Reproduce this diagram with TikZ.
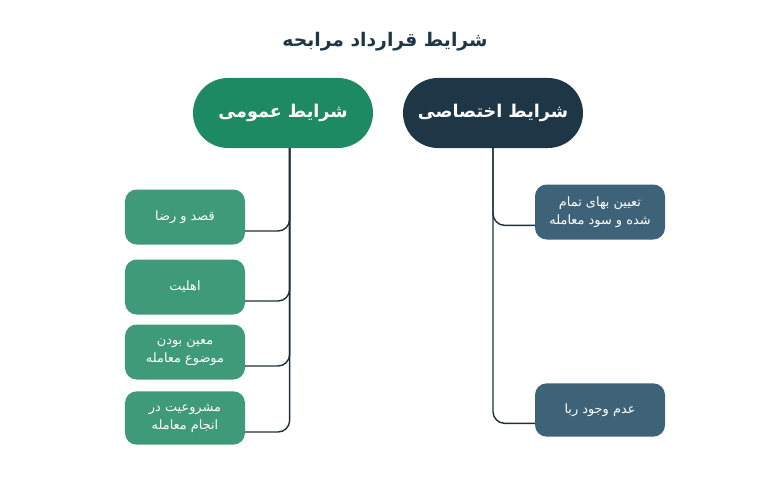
\documentclass[tikz,border=0pt]{standalone}
\usepackage{fontspec}
\newfontfamily\arabicfont[Script=Arabic]{DejaVu Sans}
\TeXXeTstate=1
\definecolor{greenhead}{HTML}{1E8A64}
\definecolor{greenitem}{HTML}{3E9A78}
\definecolor{darkhead}{HTML}{1F3647}
\definecolor{darkitem}{HTML}{3E6378}
\definecolor{linecol}{HTML}{1F2F3A}
\tikzset{
  head/.style={rectangle, rounded corners=1.05cm, minimum width=5.4cm, minimum height=2.1cm, text=white, font=\arabicfont\bfseries\fontsize{15}{18}\selectfont},
  item/.style={rectangle, rounded corners=0.35cm, minimum height=1.65cm, text=white, align=center, font=\arabicfont\fontsize{11}{15}\selectfont},
  link/.style={linecol, line width=1.2pt, rounded corners=0.35cm}
}
\begin{document}
\begin{tikzpicture}[x=0.03cm, y=-0.03cm]
  \useasboundingbox (0,0) rectangle (770,500);
  \node (title) at (385,42) [font=\arabicfont\bfseries\fontsize{16}{19}\selectfont, text=darkhead] {\beginR شرایط قرارداد مرابحه\endR};
  \node (gen) at (283,113) [head, fill=greenhead] {\beginR شرایط عمومی\endR};
  \node (spec) at (493,113) [head, fill=darkhead] {\beginR شرایط اختصاصی\endR};
  % general items
  \node (g1) at (185,217) [item, fill=greenitem, minimum width=3.6cm] {\beginR قصد و رضا\endR};
  \node (g2) at (185,287) [item, fill=greenitem, minimum width=3.6cm] {\beginR اهلیت\endR};
  \node (g3) at (185,352) [item, fill=greenitem, minimum width=3.6cm] {\beginR معین بودن\endR\\\beginR موضوع معامله\endR};
  \node (g4) at (185,418) [item, fill=greenitem, minimum width=3.6cm, minimum height=1.6cm] {\beginR مشروعیت در\endR\\\beginR انجام معامله\endR};
  % specific items
  \node (s1) at (600,212) [item, fill=darkitem, minimum width=3.9cm] {\beginR تعیین بهای تمام\endR\\\beginR شده و سود معامله\endR};
  \node (s2) at (600,410) [item, fill=darkitem, minimum width=3.9cm, minimum height=1.6cm] {\beginR عدم وجود ربا\endR};
  \foreach \n in {g1,g2,g3,g4}
    \draw [link] ([xshift=0.2cm]gen.south) |- ([yshift=-0.42cm]\n.east);
  \foreach \n in {s1,s2}
    \draw [link] (spec.south) |- ([yshift=-0.4cm]\n.west);
\end{tikzpicture}
\end{document}
